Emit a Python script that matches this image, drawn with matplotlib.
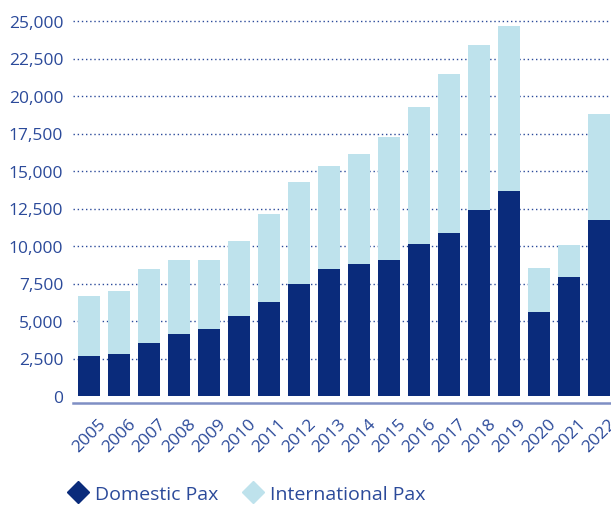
import matplotlib
matplotlib.use("Agg")
import matplotlib.pyplot as plt
from matplotlib.lines import Line2D
import numpy as np

years = ["2005", "2006", "2007", "2008", "2009", "2010", "2011", "2012", "2013",
         "2014", "2015", "2016", "2017", "2018", "2019", "2020", "2021", "2022"]
domestic = [2670, 2800, 3530, 4130, 4470, 5330, 6270, 7470, 8470,
            8800, 9070, 10130, 10870, 12400, 13670, 5600, 7930, 11730]
total = [6670, 7000, 8470, 9070, 9050, 10330, 12130, 14270, 15330,
         16130, 17270, 19270, 21470, 23400, 24670, 8530, 10070, 18800]
international = [t - d for t, d in zip(total, domestic)]
yticks = [0, 2500, 5000, 7500, 10000, 12500, 15000, 17500, 20000, 22500, 25000]

DARK = "#0a2b7b"
LIGHT = "#bee2ec"
TXT = "#2b4a9a"

plt.rcParams['font.family'] = ['Open Sans', 'DejaVu Sans']

fig = plt.figure(figsize=(6.11, 5.06), dpi=100)
ax = fig.add_axes([73/611, 109/506, 538/611, 375/506])

x = np.arange(len(years))
ax.bar(x, domestic, width=0.733, color=DARK, zorder=3)
ax.bar(x, international, bottom=domestic, width=0.733, color=LIGHT, zorder=3)

ax.set_xlim(-16/30, 17 + 12/30)
ax.set_ylim(0, 25000)
ax.set_yticks(yticks)
ax.set_yticklabels([f"{v:,}" for v in yticks])
for v in yticks[1:]:
    ax.axhline(v, color=TXT, lw=1.0, ls=(0, (1, 2)), zorder=1, clip_on=False)

ax.set_xticks(x)
ax.set_xticklabels(years)
ax.tick_params(axis='both', length=0, labelcolor=TXT, labelsize=12.5)
ax.tick_params(axis='y', pad=7)
ax.tick_params(axis='x', pad=9, labelrotation=45)
fig.canvas.draw()
plt.setp(ax.get_xticklabels(), ha='right', va='top', rotation_mode='anchor')

for s in ['top', 'right', 'left']:
    ax.spines[s].set_visible(False)
ax.spines['bottom'].set_position(('outward', 5))
ax.spines['bottom'].set_color('#7f8fc4')
ax.spines['bottom'].set_linewidth(1.8)

handles = [Line2D([], [], marker='D', ls='none', color=DARK, markersize=11),
           Line2D([], [], marker='D', ls='none', color=LIGHT, markersize=11)]
fig.legend(handles, ["Domestic Pax", "International Pax"], loc='center',
           bbox_to_anchor=(247/611, 1 - 495/506), ncol=2, frameon=False,
           fontsize=14, labelcolor=TXT, handletextpad=0.35, columnspacing=1.3,
           handlelength=1.0)

fig.savefig("out.png", dpi=100)
